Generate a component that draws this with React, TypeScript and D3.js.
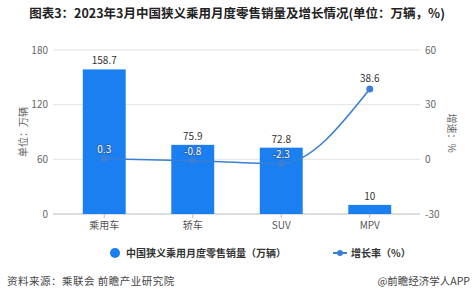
import React from "react";
import * as d3 from "d3";

const categories = ["乘用车", "轿车", "SUV", "MPV"];
const sales = [158.7, 75.9, 72.8, 10];
const growth = [0.3, -0.8, -2.3, 38.6];
const leftTicks = [0, 60, 120, 180];
const rightTicks = [-30, 0, 30, 60];

const W = 474, H = 295;
const FONT = "'Microsoft YaHei','Noto Sans CJK SC','Noto Sans',sans-serif";
const BAR = "#1a7ff0";
const LINE = "#3a7fd5";

export default function App() {
  const x = d3.scaleBand<string>().domain(categories).range([60, 414]).paddingInner(0.515).paddingOuter(0.2575);
  const yL = d3.scaleLinear().domain([0, 180]).range([214, 50]);
  const yR = d3.scaleLinear().domain([-30, 60]).range([214, 50]);
  const cx = (c: string) => (x(c) as number) + x.bandwidth() / 2;
  const pts: [number, number][] = categories.map((c, i) => [cx(c), yR(growth[i])]);
  const line = d3.line().curve(d3.curveMonotoneX)(pts) || "";

  return (
    <div style={{ position: "absolute", left: 0, top: 0 }}>
      <svg width={W} height={H} style={{ display: "block", fontFamily: FONT }}>
        <rect width={W} height={H} fill="#fff" />
        <text x={237} y={18} textAnchor="middle" fontSize={12.5} fontWeight="bold" fill="#222">
          图表3：2023年3月中国狭义乘用月度零售销量及增长情况(单位：万辆，%)
        </text>
        {leftTicks.map((t) => (
          <g key={t}>
            <line x1={53} x2={420} y1={yL(t)} y2={yL(t)} stroke={t === 0 ? "#bbb" : "#e3e3e3"} strokeWidth={1} />
            <text x={48} y={yL(t) + 3.5} textAnchor="end" fontSize={10} fill="#666">{t}</text>
          </g>
        ))}
        {rightTicks.map((t) => (
          <text key={t} x={425} y={yR(t) + 3.5} textAnchor="start" fontSize={10} fill="#666">{t}</text>
        ))}
        <text transform="translate(27,132) rotate(-90)" textAnchor="middle" fontSize={10} fill="#666">单位：万辆</text>
        <text transform="translate(448,133) rotate(90)" textAnchor="middle" fontSize={10} fill="#666">增速：%</text>
        {categories.map((c, i) => (
          <g key={c}>
            <rect x={x(c)} y={yL(sales[i])} width={x.bandwidth()} height={yL(0) - yL(sales[i])} fill={BAR} />
            <line x1={cx(c)} x2={cx(c)} y1={214} y2={218} stroke="#bbb" />
            <text x={cx(c)} y={229} textAnchor="middle" fontSize={10} fill="#555">{c}</text>
            <text x={cx(c)} y={yL(sales[i]) - 5} textAnchor="middle" fontSize={10} fill="#333">{sales[i]}</text>
          </g>
        ))}
        <path d={line} fill="none" stroke={LINE} strokeWidth={1.6} />
        {pts.map((p, i) => (
          <g key={i}>
            <circle cx={p[0]} cy={p[1]} r={3.5} fill={LINE} />
            {i < 3 ? (
              <text x={p[0]} y={p[1] - 6} textAnchor="middle" fontSize={10} fill="#fff" stroke="#2a5fa8" strokeWidth={1.5} paintOrder="stroke">
                {growth[i]}
              </text>
            ) : (
              <text x={p[0]} y={p[1] - 7} textAnchor="middle" fontSize={10} fill="#333">{growth[i]}</text>
            )}
          </g>
        ))}
        <circle cx={115} cy={253} r={5} fill={BAR} />
        <text x={126} y={256.5} fontSize={10} fill="#333" fontWeight="bold">中国狭义乘用月度零售销量（万辆）</text>
        <line x1={333} x2={347} y1={253} y2={253} stroke={LINE} strokeWidth={2} />
        <circle cx={340} cy={253} r={3} fill={LINE} />
        <text x={351} y={256.5} fontSize={10} fill="#333" fontWeight="bold">增长率（%）</text>
        <text x={7} y={285} fontSize={10.5} fill="#444" letterSpacing={0.5}>资料来源：乘联会 前瞻产业研究院</text>
        <text x={470} y={285} textAnchor="end" fontSize={10.5} fill="#444">@前瞻经济学人APP</text>
      </svg>
    </div>
  );
}
